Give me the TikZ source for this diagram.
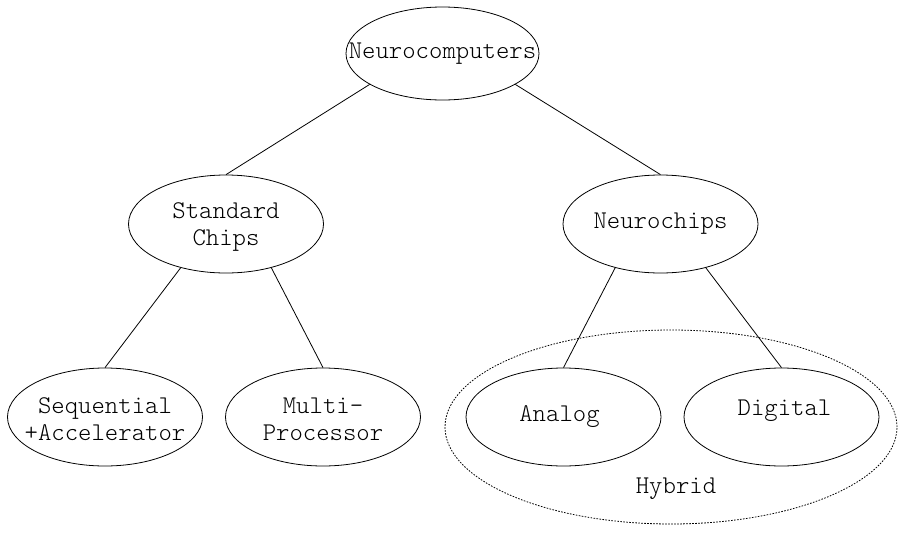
\documentclass[tikz,border=0pt]{standalone}
\usepackage{fontspec}
\setmonofont{Latin Modern Mono Light}
\usetikzlibrary{shapes.geometric}
\begin{document}
\begin{tikzpicture}[x=1pt,y=-1pt,
  txt/.style={font=\ttfamily\fontsize{25.5}{27}\selectfont,align=center,inner sep=0pt},
  box/.style={draw,ellipse,line width=0.8pt,minimum width=195pt,minimum height=98pt,inner sep=0pt},
  link/.style={line width=0.8pt},
  group/.style={draw,ellipse,line width=0.8pt,dash pattern=on 1.6pt off 1.4pt,minimum width=452pt,minimum height=194pt,inner sep=0pt}]
\useasboundingbox (0,0) rectangle (906,539);
\node[group] (hy) at (671,427) {};
\node[txt] (hyl) at (676,489) {Hybrid};
\node[box,minimum width=193pt,minimum height=93pt,label={[txt]center:Neurocomputers}] (nc) at (442.5,53.5) {};
\node[box,label={[txt,yshift=-3pt]center:Standard\\Chips}] (sc) at (226,224) {};
\node[box,label={[txt]center:Neurochips}] (nch) at (660.5,224) {};
\node[box,label={[txt,yshift=-2pt]center:Sequential\\+Accelerator}] (seq) at (105,417) {};
\node[box,label={[txt,yshift=-2pt]center:Multi-\\Processor}] (mp) at (323,417) {};
\node[box,label={[txt,xshift=-4pt]center:Analog}] (an) at (563.5,417) {};
\node[box,label={[txt,xshift=3pt,yshift=6pt]center:Digital}] (dg) at (781.5,417) {};
\draw[link] (nc.203) -- (sc.north);
\draw[link] (nc.337) -- (nch.north);
\draw[link] (sc.224) -- (seq.north);
\draw[link] (sc.316) -- (mp.north);
\draw[link] (nch.224) -- (an.north);
\draw[link] (nch.316) -- (dg.north);
\end{tikzpicture}
\end{document}
